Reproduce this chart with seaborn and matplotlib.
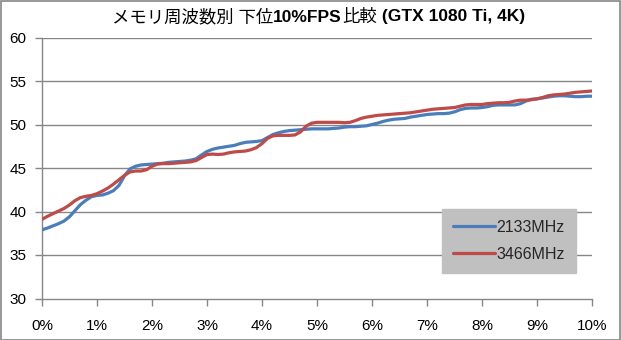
import matplotlib
matplotlib.use("Agg")
import matplotlib.pyplot as plt
import numpy as np
import pandas as pd
import seaborn as sns
from matplotlib.patches import Rectangle

# Percentile position (lowest x% of frames)
percentile = [round(i * 0.1, 1) for i in range(101)]

fps_2133 = [
    37.9, 38.1, 38.35, 38.6, 38.9, 39.4, 40.1, 40.8, 41.3, 41.7,
    41.85, 41.9, 42.1, 42.4, 43.0, 44.1, 44.9, 45.2, 45.35, 45.4,
    45.45, 45.5, 45.55, 45.65, 45.7, 45.75, 45.8, 45.9, 46.05, 46.5,
    46.9, 47.15, 47.3, 47.4, 47.5, 47.6, 47.8, 47.95, 48.0, 48.05,
    48.15, 48.5, 48.85, 49.05, 49.2, 49.3, 49.35, 49.4, 49.45, 49.5,
    49.5, 49.5, 49.5, 49.55, 49.6, 49.7, 49.75, 49.75, 49.8, 49.85,
    50.0, 50.15, 50.35, 50.5, 50.6, 50.65, 50.7, 50.85, 50.95, 51.05,
    51.15, 51.2, 51.25, 51.25, 51.3, 51.45, 51.7, 51.85, 51.9, 51.9,
    51.95, 52.05, 52.2, 52.25, 52.25, 52.25, 52.25, 52.4, 52.7, 52.9,
    52.95, 53.05, 53.15, 53.25, 53.3, 53.3, 53.25, 53.2, 53.2, 53.25,
    53.25,
]

fps_3466 = [
    39.1, 39.45, 39.75, 40.05, 40.35, 40.75, 41.25, 41.6, 41.75, 41.85,
    42.05, 42.35, 42.7, 43.15, 43.65, 44.15, 44.55, 44.65, 44.65, 44.8,
    45.2, 45.45, 45.5, 45.5, 45.55, 45.6, 45.65, 45.7, 45.85, 46.2,
    46.55, 46.6, 46.55, 46.6, 46.75, 46.85, 46.9, 46.95, 47.1, 47.35,
    47.8, 48.4, 48.7, 48.75, 48.75, 48.75, 48.8, 49.15, 49.8, 50.15,
    50.25, 50.25, 50.25, 50.25, 50.25, 50.2, 50.25, 50.45, 50.7, 50.85,
    50.95, 51.05, 51.1, 51.15, 51.2, 51.25, 51.3, 51.35, 51.45, 51.55,
    51.65, 51.75, 51.8, 51.85, 51.9, 51.95, 52.1, 52.25, 52.3, 52.3,
    52.3, 52.4, 52.45, 52.5, 52.5, 52.55, 52.7, 52.8, 52.8, 52.85,
    52.95, 53.1, 53.3, 53.4, 53.45, 53.5, 53.6, 53.7, 53.75, 53.8,
    53.85,
]

series_names = ["2133MHz", "3466MHz"]
x_ticks = list(range(0, 11))
x_tick_labels = [f"{t}%" for t in x_ticks]
y_ticks = [30, 35, 40, 45, 50, 55, 60]
# Title pieces: (text, bold?)
title_parts = [("メモリ周波数別 下位", False), ("10%FPS", True),
               ("比較", False), (" (GTX 1080 Ti, 4K)", True)]

df = pd.concat([
    pd.DataFrame({"pct": percentile, "fps": fps_2133, "mem": series_names[0]}),
    pd.DataFrame({"pct": percentile, "fps": fps_3466, "mem": series_names[1]}),
])

sns.set_theme(style="white")
plt.rcParams["font.family"] = ["Liberation Sans", "Noto Sans CJK JP", "DejaVu Sans"]

W, H = 621, 340
fig = plt.figure(figsize=(W / 100, H / 100), dpi=100)
fig.patch.set_facecolor("white")
ax = fig.add_axes([42 / W, 41.5 / H, 550 / W, 261 / H])

palette = {series_names[0]: "#4a7ebb", series_names[1]: "#be4b48"}
sns.lineplot(data=df, x="pct", y="fps", hue="mem", palette=palette,
             linewidth=2.3, ax=ax, legend=False, zorder=3)

grid_c = "#868686"
ax.set_xlim(0, 10)
ax.set_ylim(30, 60)
ax.set_yticks(y_ticks)
ax.set_xticks(x_ticks)
ax.set_xticklabels(x_tick_labels)
for y in y_ticks[1:]:
    ax.axhline(y, color=grid_c, linewidth=1.0, zorder=1)
for side in ["top", "right"]:
    ax.spines[side].set_visible(False)
for side in ["left", "bottom"]:
    ax.spines[side].set_color(grid_c)
    ax.spines[side].set_linewidth(1.0)
ax.tick_params(axis="both", direction="out", length=5, width=1.0,
               color=grid_c, labelsize=11, labelcolor="black",
               left=True, bottom=True)
ax.tick_params(axis="x", pad=10)
ax.tick_params(axis="y", pad=6)
ax.set_xlabel("")
ax.set_ylabel("")

# Legend
handles = [plt.Line2D([], [], color=palette[n], linewidth=2.3) for n in series_names]
leg = ax.legend(handles, series_names, loc="lower left",
                bbox_to_anchor=((442 - 42) / 550, (298.5 - 273) / 261,
                                134 / 550, 60.5 / 261),
                mode="expand", frameon=True, fancybox=False,
                fontsize=11.5, handlelength=2.6, handletextpad=0.1,
                labelspacing=0.75, borderaxespad=0, borderpad=0.7)
leg.get_frame().set_facecolor("#c0c0c0")
leg.get_frame().set_edgecolor("#c0c0c0")
leg.get_frame().set_alpha(1)
leg.set_zorder(5)

# Title assembled from pieces of mixed weight, centred as a whole
renderer = fig.canvas.get_renderer()
title_y = 1 - 17 / H
pieces = []
for txt, bold in title_parts:
    t = fig.text(0, title_y, txt, ha="left", va="center", fontsize=12.5,
                 fontweight="bold" if bold else "normal", color="black",
                 family=["Liberation Sans", "Noto Sans CJK JP"])
    pieces.append(t)
widths = [p.get_window_extent(renderer).width for p in pieces]
x_px = (W - sum(widths)) / 2 + 8
for p, w in zip(pieces, widths):
    p.set_x(x_px / W)
    x_px += w

# Outer chart border
fig.add_artist(Rectangle((0.5 / W, 0.5 / H), 1 - 1.5 / W, 1 - 1.5 / H,
                         transform=fig.transFigure, fill=False,
                         edgecolor="#868686", linewidth=1.2))

fig.savefig("out.png", dpi=100)
